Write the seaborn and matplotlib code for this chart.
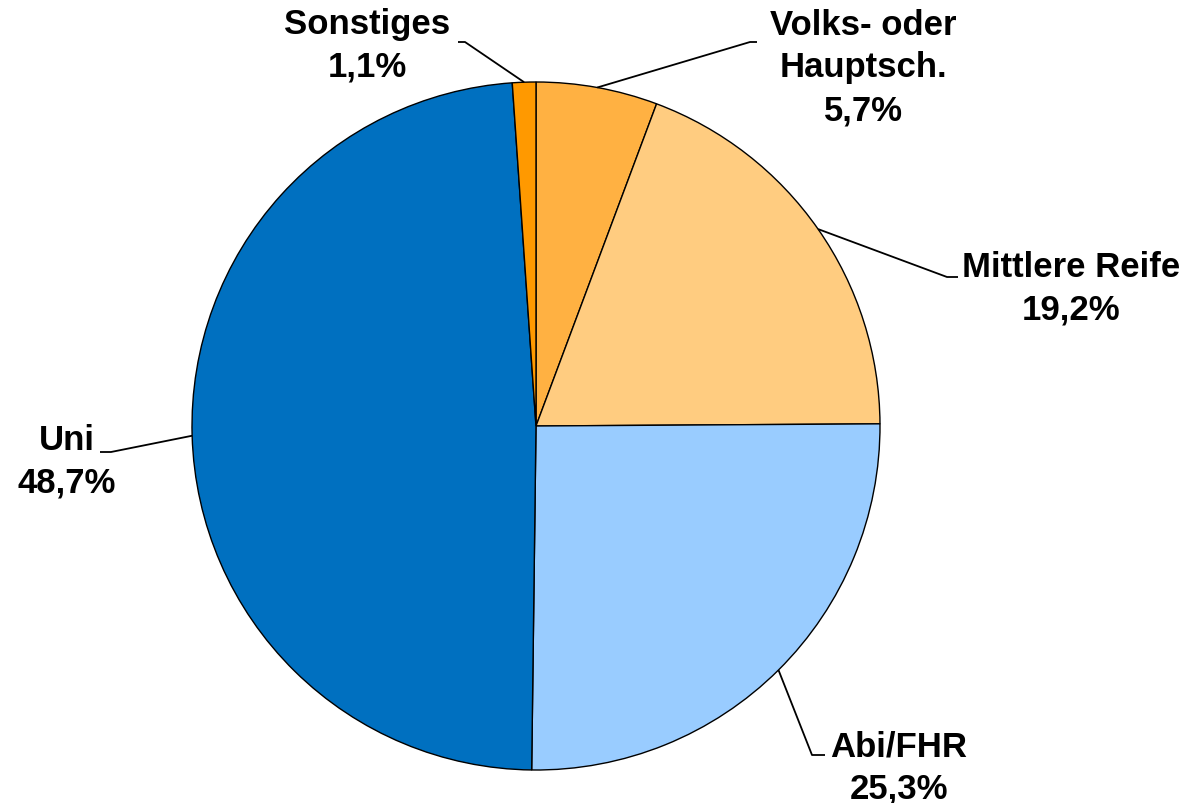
import numpy as np
import matplotlib
matplotlib.use("Agg")
import matplotlib.pyplot as plt
import seaborn as sns

sns.set_theme(style="white")
plt.rcParams['font.family'] = ['Liberation Sans', 'DejaVu Sans']

categories = ["Volks- oder\nHauptsch.", "Mittlere Reife", "Abi/FHR", "Uni", "Sonstiges"]
values = [5.7, 19.2, 25.3, 48.7, 1.1]
colors = ["#FFB142", "#FFCC80", "#99CCFF", "#0070C0", "#FF9900"]

# layout (pixels from top-left): label block centre, leader elbow, leader end
W, H = 1194, 804
CX, CY, R = 536, 427, 344
label_pos = [(863, 68), (1071, 289), (899, 768), (67, 462), (367, 46)]
elbows = [(750, 43), (947, 278), (812, 756), (111, 453), (465, 43)]
ends = [(757, 43), (958, 278), (825, 756), (100, 453), (458, 43)]

def px(p):
    return ((p[0] - CX) / R, (CY - p[1]) / R)

fig = plt.figure(figsize=(W / 100, H / 100), dpi=100)
ax = fig.add_axes([0, 0, 1, 1])
wedges, _ = ax.pie(values, colors=colors, startangle=90, counterclock=False,
                   radius=1.0, center=(0, 0),
                   wedgeprops=dict(edgecolor="black", linewidth=1.0))
ax.set_xlim(-CX / R, (W - CX) / R)
ax.set_ylim(-(H - CY) / R, CY / R)
ax.set_aspect("equal")
ax.axis("off")

for w, cat, val, lp, el, en in zip(wedges, categories, values, label_pos, elbows, ends):
    mid = np.deg2rad((w.theta1 + w.theta2) / 2)
    x0, y0 = np.cos(mid), np.sin(mid)
    ex, ey = px(el)
    nx, ny = px(en)
    ax.plot([x0, ex, nx], [y0, ey, ny], color="black", lw=1.3, solid_capstyle="butt")
    tx, ty = px(lp)
    pct = f"{val:.1f}%".replace(".", ",")
    ax.text(tx, ty, f"{cat}\n{pct}", ha="center", va="center",
            fontsize=25, fontweight="bold", color="black", linespacing=1.38)

fig.savefig("out.png", dpi=100, facecolor="white")
